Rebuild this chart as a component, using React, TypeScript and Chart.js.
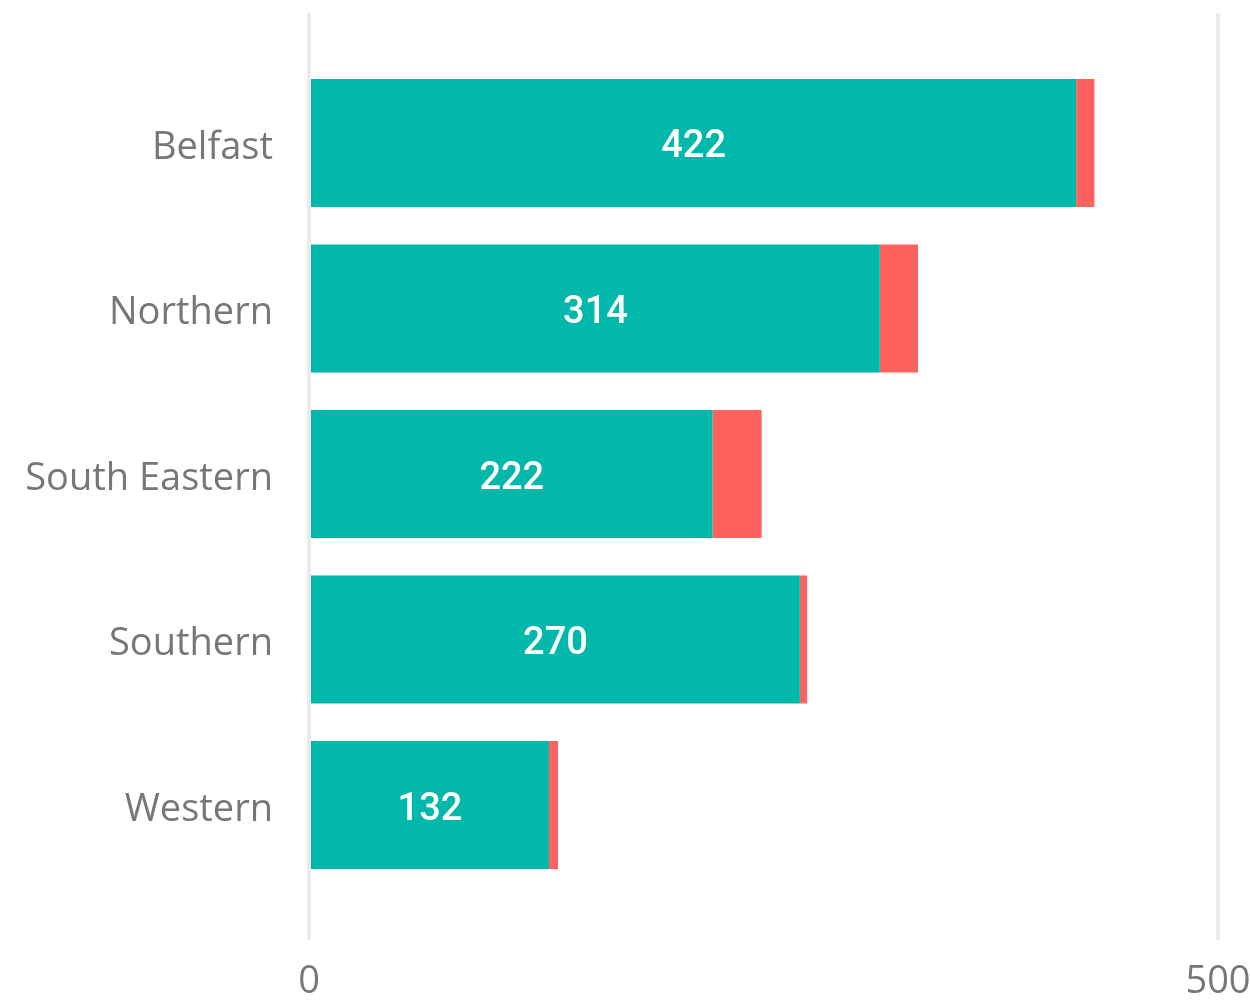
import React, { useEffect, useRef } from "react";
import { Chart, registerables } from "chart.js";

Chart.register(...registerables);

const categories = ["Belfast", "Northern", "South Eastern", "Southern", "Western"];
const primaryValues = [422, 314, 222, 270, 132];
const secondaryValues = [10, 21, 27, 4, 5];
const xTickValues = [0, 500];

const TEAL = "#01B8AA";
const RED = "#FD625E";

const valueLabelPlugin = {
  id: "valueLabels",
  afterDatasetsDraw(chart: any) {
    const { ctx } = chart;
    const meta = chart.getDatasetMeta(0);
    ctx.save();
    ctx.fillStyle = "#ffffff";
    ctx.font = "500 38px Roboto";
    ctx.textAlign = "center";
    ctx.textBaseline = "middle";
    meta.data.forEach((bar: any, i: number) => {
      const p = bar.getProps(["x", "y", "base"], true);
      const cx = (p.x + p.base) / 2;
      ctx.fillText(String(primaryValues[i]), cx, p.y + 5);
    });
    ctx.restore();
  },
};

export default function App() {
  const ref = useRef<HTMLCanvasElement | null>(null);
  useEffect(() => {
    if (!ref.current) return;
    const chart = new Chart(ref.current, {
      type: "bar",
      data: {
        datasets: [
          {
            label: "Primary",
            data: primaryValues.map((v, i) => ({ x: v, y: i })),
            backgroundColor: TEAL,
            categoryPercentage: 1,
            barPercentage: 0.773,
          },
          {
            label: "Secondary",
            data: secondaryValues.map((v, i) => ({ x: v, y: i })),
            backgroundColor: RED,
            categoryPercentage: 1,
            barPercentage: 0.773,
          },
        ],
      },
      options: {
        indexAxis: "y",
        animation: false,
        responsive: false,
        maintainAspectRatio: false,
        layout: { padding: { top: 13, right: 32, left: 0, bottom: 0 } },
        plugins: { legend: { display: false }, tooltip: { enabled: false } },
        scales: {
          x: {
            type: "linear",
            stacked: true,
            min: 0,
            max: 500,
            border: { display: false },
            grid: { color: "#ebebeb", lineWidth: 4, drawTicks: false },
            afterBuildTicks: (s: any) => {
              s.ticks = xTickValues.map((v) => ({ value: v }));
            },
            afterFit: (s: any) => {
              s.paddingLeft = 0;
              s.paddingRight = 0;
              s.height = 60;
            },
            ticks: {
              color: "#777777",
              font: { family: "'Open Sans'", size: 38 },
              padding: 19,
            },
          },
          y: {
            type: "linear",
            stacked: true,
            reverse: true,
            offset: false,
            min: -0.785,
            max: 4.815,
            border: { display: false },
            grid: { display: false, drawTicks: false, offset: false },
            afterBuildTicks: (s: any) => {
              s.ticks = categories.map((_, i) => ({ value: i }));
            },
            afterFit: (s: any) => {
              s.width = 309;
              s.paddingTop = 0;
              s.paddingBottom = 0;
            },
            ticks: {
              color: "#777777",
              font: { family: "'Open Sans'", size: 38 },
              padding: 36,
              labelOffset: 5,
              callback: (v: any) => categories[v] ?? "",
            },
          },
        },
      },
      plugins: [valueLabelPlugin],
    } as any);
    return () => chart.destroy();
  }, []);
  return (
    <div style={{ position: "absolute", left: 0, top: 0, width: 1250, height: 1000, background: "#fff" }}>
      <canvas ref={ref} width={1250} height={1000} style={{ width: 1250, height: 1000 }} />
    </div>
  );
}
